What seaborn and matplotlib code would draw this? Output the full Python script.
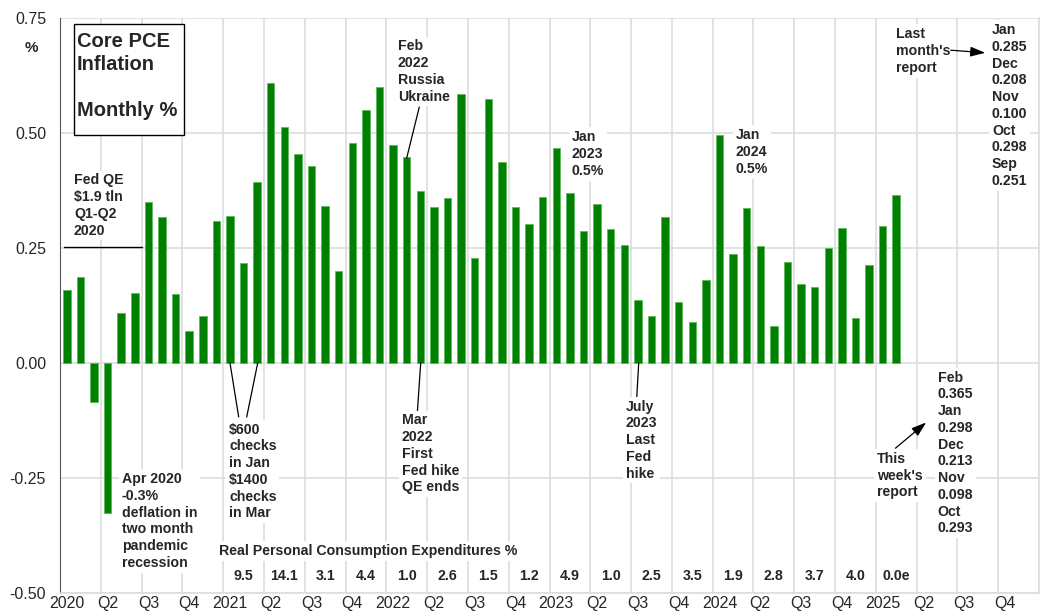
import numpy as np
import pandas as pd
import seaborn as sns
import matplotlib.pyplot as plt

# monthly core PCE % change, Jan 2020 .. Feb 2025
pce_2020 = [0.159, 0.186, -0.084, -0.325, 0.108, 0.153, 0.351, 0.318, 0.151, 0.070, 0.102, 0.308]
pce_2021 = [0.320, 0.218, 0.393, 0.608, 0.513, 0.454, 0.428, 0.341, 0.200, 0.479, 0.550, 0.599]
pce_2022 = [0.473, 0.448, 0.375, 0.339, 0.359, 0.585, 0.228, 0.573, 0.438, 0.339, 0.303, 0.361]
pce_2023 = [0.468, 0.370, 0.288, 0.346, 0.291, 0.257, 0.138, 0.102, 0.317, 0.132, 0.090, 0.180]
pce_2024 = [0.496, 0.238, 0.337, 0.254, 0.080, 0.220, 0.172, 0.166, 0.251, 0.293, 0.098, 0.213]
pce_2025 = [0.298, 0.365]

# real PCE growth by quarter, Q1 2021 .. Q1 2025
real_pce = ["9.5", "14.1", "3.1", "4.4", "1.0", "2.6", "1.5", "1.2", "4.9",
            "1.0", "2.5", "3.5", "1.9", "2.8", "3.7", "4.0", "0.0e"]

quarter_labels = []
for yr in range(2020, 2026):
    quarter_labels += [str(yr), "Q2", "Q3", "Q4"]

vals = pce_2020 + pce_2021 + pce_2022 + pce_2023 + pce_2024 + pce_2025
df = pd.DataFrame({"month": np.arange(len(vals)), "pce": vals})

sns.set_style("white")
plt.rcParams['font.family'] = ['Liberation Sans', 'DejaVu Sans']

W, H = 1047, 612
fig = plt.figure(figsize=(W / 100, H / 100), dpi=100)
ax = fig.add_axes([60 / W, 19 / H, 979 / W, 575 / H])

# pixel -> data helpers for placing the notes
def dx(px):
    return -0.5 + (px - 60) / (979 / 72)

def dy(py):
    return 0.75 - (py - 18) / 460

sns.barplot(data=df, x="month", y="pce", native_scale=True, width=0.55,
            color="#008000", saturation=1, edgecolor="#5cb85c", linewidth=0.6, ax=ax)

ax.set_xlim(-0.5, 71.5)
ax.set_ylim(-0.5, 0.75)
ax.set_yticks([-0.5, -0.25, 0, 0.25, 0.5, 0.75])
ax.set_yticklabels(["-0.50", "-0.25", "0.00", "0.25", "0.50", "0.75"], fontsize=11.5)
ax.set_xticks(np.arange(0, 72, 3))
ax.set_xticklabels(quarter_labels, fontsize=11.5)
ax.set_xticks(np.arange(-0.5, 72, 3), minor=True)
ax.tick_params(axis="x", which="both", length=0, pad=2)
ax.tick_params(axis="y", length=4, width=1, color="#555555", pad=6, direction="out")
ax.grid(False)
ax.grid(True, which="minor", axis="x", color="#dddddd", lw=1.2)
ax.grid(True, which="major", axis="y", color="#dddddd", lw=1.2)
ax.set_axisbelow(True)
ax.set_xlabel("")
ax.set_ylabel("")
for s in ["top", "right", "bottom"]:
    ax.spines[s].set_color("#dddddd")
    ax.spines[s].set_linewidth(1.2)
ax.spines["top"].set_visible(False)
ax.spines["left"].set_color("#555555")

wbox = dict(facecolor="white", edgecolor="none", pad=2)

def note(px, py_first, py_last, txt, size=10.2, ls=1.25):
    ax.text(dx(px), dy((py_first + py_last) / 2 + 1), txt, fontsize=size, fontweight="bold",
            ha="left", va="center", linespacing=ls, bbox=wbox)

fig.text(25 / W, 1 - 48 / H, "%", fontsize=11, fontweight="bold", va="center")

# title box
ax.add_patch(plt.Rectangle((dx(74), dy(135)), dx(184) - dx(74), dy(24) - dy(135),
                           facecolor="white", edgecolor="black", lw=1, zorder=3))
ax.text(dx(77), dy(76), "Core PCE\nInflation\n\nMonthly %", fontsize=14.5, fontweight="bold",
        va="center", ha="left", linespacing=1.27, zorder=4)

note(74, 180, 229, "Fed QE\n$1.9 tln\nQ1-Q2\n2020")
ax.plot([dx(64), dx(142)], [dy(247), dy(247)], color="black", lw=1)

note(122, 481, 559, "Apr 2020\n-0.3%\ndeflation in\ntwo month\npandemic\nrecession")

note(229, 429, 512, "$600\nchecks\nin Jan\n$1400\nchecks\nin Mar")
ax.plot([dx(230), dx(238.7)], [0, dy(417)], color="black", lw=0.9)
ax.plot([dx(257.7), dx(246.7)], [0, dy(417)], color="black", lw=0.9)

note(398, 48, 93, "Feb\n2022\nRussia\nUkraine")
ax.plot([dx(419.3), dx(406.7)], [dy(107), dy(158)], color="black", lw=0.9)

note(402, 423, 483, "Mar\n2022\nFirst\nFed hike\nQE ends")
ax.plot([dx(420.7), dx(417.3)], [0, dy(413)], color="black", lw=0.9)

note(572, 138, 168, "Jan\n2023\n0.5%")

note(625.7, 409, 469, "July\n2023\nLast\nFed\nhike")
ax.plot([dx(638.7), dx(636.7)], [0, dy(398)], color="black", lw=0.9)

note(735.7, 136, 166, "Jan\n2024\n0.5%")

note(896, 35, 65, "Last\nmonth's\nreport")
ax.annotate("", xy=(dx(988), dy(53)), xytext=(dx(948), dy(50)),
            arrowprops=dict(arrowstyle="-|>,head_length=0.9,head_width=0.3", color="black", lw=0.9))
note(992, 37, 172, "Jan\n0.285\nDec\n0.208\nNov\n0.100\nOct\n0.298\nSep\n0.251")

note(877, 459, 490, "This\nweek's\nreport")
ax.annotate("", xy=(dx(928.3), dy(420.7)), xytext=(dx(893.3), dy(450)),
            arrowprops=dict(arrowstyle="-|>,head_length=0.9,head_width=0.3", color="black", lw=0.9))
note(937.7, 385, 519, "Feb\n0.365\nJan\n0.298\nDec\n0.213\nNov\n0.098\nOct\n0.293")

ax.text(dx(219), dy(551), "Real Personal Consumption Expenditures %", fontsize=10.2,
        fontweight="bold", va="center", ha="left", bbox=wbox)
for i, v in enumerate(real_pce):
    ax.text(12 + 3 * i + 1.0, dy(576), v, fontsize=10.2, fontweight="bold",
            va="center", ha="center")

fig.savefig("out.png", dpi=100)
